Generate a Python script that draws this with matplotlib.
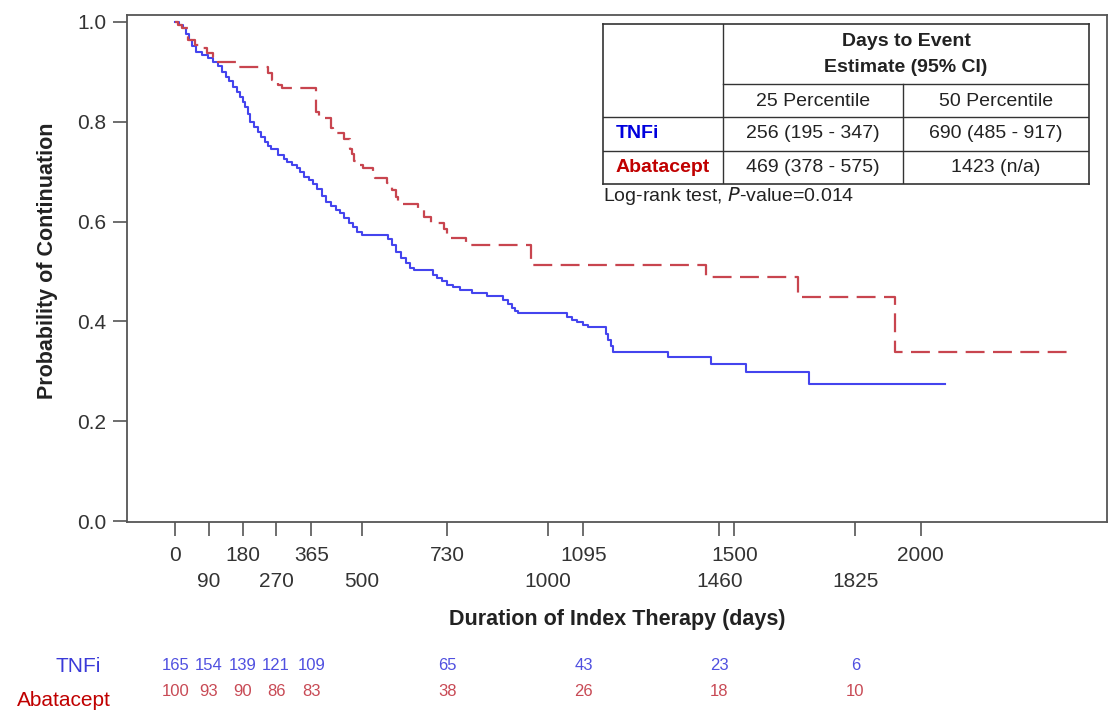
import matplotlib
matplotlib.use('Agg')
import matplotlib.pyplot as plt

# Kaplan-Meier steps (day, probability after the step)
tnfi_days = [0, 10, 20, 28, 36, 45, 55, 70, 87, 100, 114, 125, 135, 145, 155, 164, 172, 180,
             188, 194, 200, 210, 221, 230, 240, 248, 256, 275, 290, 300, 312, 325, 334, 345,
             358, 369, 380, 392, 405, 418, 430, 441, 452, 465, 476, 488, 500, 570, 580, 592,
             605, 620, 630, 640, 692, 702, 715, 728, 745, 764, 795, 835, 880, 893, 903, 912,
             920, 1050, 1065, 1078, 1095, 1107, 1155, 1162, 1168, 1175, 1322, 1436, 1530,
             1700, 2065]
tnfi_surv = [1.0, 0.994, 0.988, 0.976, 0.964, 0.952, 0.94, 0.934, 0.928, 0.92, 0.912, 0.90,
             0.89, 0.882, 0.87, 0.86, 0.85, 0.84, 0.83, 0.815, 0.80, 0.79, 0.78, 0.77, 0.76,
             0.752, 0.745, 0.733, 0.726, 0.72, 0.714, 0.707, 0.70, 0.69, 0.683, 0.675, 0.665,
             0.652, 0.64, 0.632, 0.624, 0.617, 0.608, 0.598, 0.59, 0.58, 0.573, 0.565, 0.553,
             0.54, 0.528, 0.517, 0.508, 0.503, 0.493, 0.486, 0.48, 0.473, 0.468, 0.463, 0.457,
             0.45, 0.443, 0.435, 0.427, 0.42, 0.416, 0.408, 0.403, 0.398, 0.393, 0.389, 0.375,
             0.362, 0.35, 0.339, 0.329, 0.314, 0.298, 0.275, 0.275]

abat_days = [0, 8, 18, 34, 52, 75, 85, 100, 115, 165, 248, 258, 275, 285, 376, 385, 418, 423,
             452, 469, 474, 478, 490, 504, 531, 536, 567, 580, 592, 598, 652, 668, 685, 720,
             728, 780, 955, 1423, 1670, 1931, 2415]
abat_surv = [1.0, 0.994, 0.987, 0.964, 0.954, 0.947, 0.937, 0.93, 0.92, 0.91, 0.897, 0.884,
             0.874, 0.867, 0.82, 0.807, 0.787, 0.777, 0.765, 0.745, 0.735, 0.722, 0.714, 0.707,
             0.697, 0.687, 0.677, 0.663, 0.65, 0.635, 0.623, 0.61, 0.597, 0.585, 0.567, 0.553,
             0.513, 0.488, 0.449, 0.338, 0.338]

# number at risk
risk_days = [0, 90, 180, 270, 365, 730, 1095, 1460, 1825]
tnfi_risk = [165, 154, 139, 121, 109, 65, 43, 23, 6]
abat_risk = [100, 93, 90, 86, 83, 38, 26, 18, 10]

# staggered x tick labels
ticks_top = [0, 180, 365, 730, 1095, 1500, 2000]
ticks_bottom = [90, 270, 500, 1000, 1460, 1825]

# summary table
col_heads = ['25 Percentile', '50 Percentile']
tnfi_est = ['256 (195 - 347)', '690 (485 - 917)']
abat_est = ['469 (378 - 575)', '1423 (n/a)']

plt.rcParams['font.family'] = ['Liberation Sans', 'DejaVu Sans']

blue = '#4444ee'
red = '#c8454f'
grey = '#555555'
txt = '#333333'

fig = plt.figure(figsize=(11.12, 7.2), dpi=100)
ax = fig.add_axes([127 / 1112, 1 - 522 / 720, 980 / 1112, 507 / 720])

ax.step(tnfi_days, tnfi_surv, where='post', color=blue, lw=1.5)
ax.step(abat_days, abat_surv, where='post', color=red, lw=1.6, dashes=(8.5, 3.8))

ax.set_xlim(-130, 2500)
ax.set_ylim(-0.002, 1.014)
ax.set_yticks([0, 0.2, 0.4, 0.6, 0.8, 1.0])
ax.set_yticklabels(['0.0', '0.2', '0.4', '0.6', '0.8', '1.0'])
ax.set_xticks(ticks_top, labels=[str(t) for t in ticks_top])
ax.set_xticks(ticks_bottom, labels=[str(t) for t in ticks_bottom], minor=True)
ax.tick_params(axis='both', which='both', direction='out', length=10, width=1.2,
               color=grey, labelcolor=txt, labelsize=15)
ax.tick_params(axis='x', which='major', pad=7)
ax.tick_params(axis='x', which='minor', pad=26)
ax.tick_params(axis='y', pad=5)
for s in ax.spines.values():
    s.set_color(grey)
    s.set_linewidth(1.3)

ax.set_xlabel('Duration of Index Therapy (days)', fontsize=15.5, fontweight='bold',
              color='#222222', va='center')
ax.xaxis.set_label_coords(0.5, -0.192)
ax.set_ylabel('Probability of Continuation', fontsize=15.5, fontweight='bold',
              color='#222222', va='center')
ax.yaxis.set_label_coords(-0.081, 0.515)

# number at risk rows
trans = ax.get_xaxis_transform()
for d, n in zip(risk_days, tnfi_risk):
    ax.text(d, (522 - 666) / 507, str(n), transform=trans, ha='center', va='center',
            fontsize=12, color='#5050e0', clip_on=False)
for d, n in zip(risk_days, abat_risk):
    ax.text(d, (522 - 692) / 507, str(n), transform=trans, ha='center', va='center',
            fontsize=12, color='#c84a55', clip_on=False)
fig.text(78 / 1112, 1 - 666 / 720, 'TNFi', ha='center', va='center', fontsize=15,
         color='#3a3ad8')
fig.text(64 / 1112, 1 - 700 / 720, 'Abatacept', ha='center', va='center', fontsize=15,
         color='#c00000')

# inset table in pixel-like coordinates
tb = fig.add_axes([603 / 1112, 1 - 184 / 720, 486 / 1112, 160 / 720])
tb.set_xlim(603, 1089)
tb.set_ylim(184, 24)
tb.set_xticks([])
tb.set_yticks([])
for s in tb.spines.values():
    s.set_color('#333333')
    s.set_linewidth(1.2)
lc = dict(color='#333333', lw=1.0)
tb.plot([723, 723], [24, 184], **lc)
tb.plot([903, 903], [84, 184], **lc)
tb.plot([723, 1089], [84, 84], **lc)
tb.plot([603, 1089], [117, 117], **lc)
tb.plot([603, 1089], [151, 151], **lc)
fs = 14
tb.text(906, 41, 'Days to Event', ha='center', va='center', fontsize=fs, fontweight='bold',
        color='#222222')
tb.text(906, 68, 'Estimate (95% CI)', ha='center', va='center', fontsize=fs,
        fontweight='bold', color='#222222')
for cx, h in zip([813, 996], col_heads):
    tb.text(cx, 101, h, ha='center', va='center', fontsize=fs, color='#222222')
for cx, v in zip([813, 996], tnfi_est):
    tb.text(cx, 134, v, ha='center', va='center', fontsize=fs, color='#222222')
for cx, v in zip([813, 996], abat_est):
    tb.text(cx, 168, v, ha='center', va='center', fontsize=fs, color='#222222')
tb.text(616, 134, 'TNFi', ha='left', va='center', fontsize=fs, fontweight='bold',
        color='#0000dd')
tb.text(616, 168, 'Abatacept', ha='left', va='center', fontsize=fs, fontweight='bold',
        color='#c00000')
fig.text(603 / 1112, 1 - 196 / 720, 'Log-rank test, $\\it{P}$-value=0.014', ha='left',
         va='center', fontsize=fs, color='#222222')

fig.savefig('out.png', dpi=100)
